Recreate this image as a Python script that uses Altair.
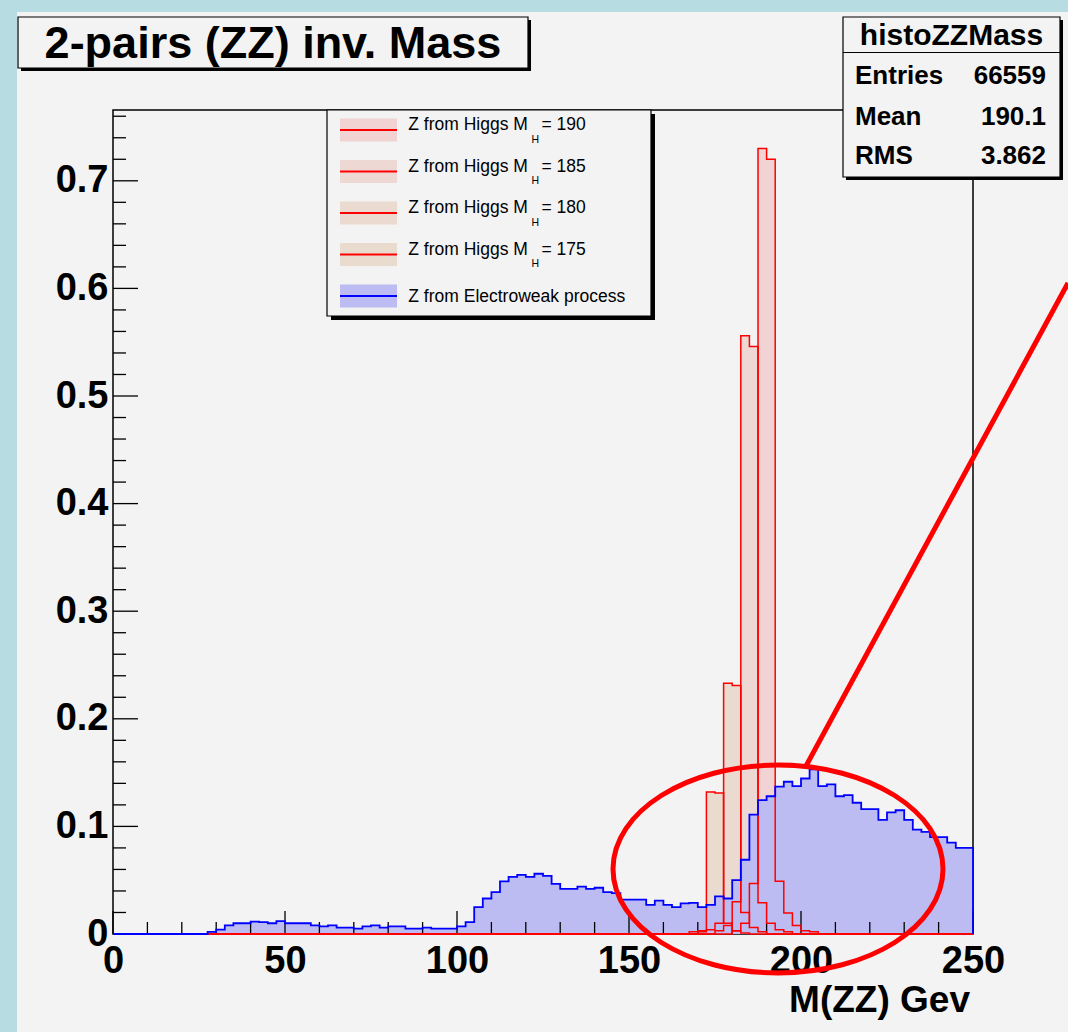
import altair as alt
import pandas as pd

# ---------------- data ----------------
BIN_WIDTH = 2.5
X_DOMAIN = [0, 250]
Y_DOMAIN = [0, 0.7658]

# Electroweak (blue) histogram, 2.5 GeV bins starting at 0
ew_start = 0.0
ew_values = [0, 0, 0, 0, 0, 0, 0, 0, 0, 0, 0,
             0.002, 0.004, 0.008, 0.010, 0.010, 0.0115, 0.011, 0.010, 0.012, 0.010,
             0.010, 0.010, 0.008, 0.007, 0.008, 0.006, 0.006, 0.005, 0.007, 0.008,
             0.006, 0.007, 0.007, 0.005, 0.005, 0.006, 0.005, 0.005, 0.005, 0.007,
             0.011, 0.025, 0.033, 0.039, 0.049, 0.053, 0.055, 0.053, 0.056, 0.054,
             0.0465, 0.042, 0.042, 0.044, 0.042, 0.043, 0.039, 0.038, 0.032, 0.032,
             0.032, 0.027, 0.031, 0.027, 0.025, 0.0285, 0.029, 0.025, 0.027, 0.035,
             0.033, 0.050, 0.069, 0.111, 0.1245, 0.128, 0.137, 0.1415, 0.1375, 0.1445,
             0.153, 0.1375, 0.139, 0.128, 0.129, 0.122, 0.116, 0.116, 0.106, 0.113,
             0.115, 0.106, 0.097, 0.095, 0.090, 0.090, 0.085, 0.080, 0.080]

# Higgs (red) histograms: first non-empty bin edge and bin contents
higgs_masses = [190, 185, 180, 175]
higgs_starts = {190: 180.0, 185: 175.0, 180: 170.0, 175: 167.5}
higgs_values = {
    190: [0.003, 0.010, 0.047, 0.730, 0.720, 0.049, 0.0195, 0.008, 0.003, 0.002],
    185: [0.003, 0.008, 0.030, 0.556, 0.546, 0.029, 0.010, 0.004, 0.002],
    180: [0.002, 0.004, 0.010, 0.233, 0.231, 0.020, 0.006, 0.002],
    175: [0.002, 0.003, 0.132, 0.131, 0.010, 0.003, 0.001],
}
higgs_range = [27.5, 250.0]
higgs_fills = {190: "#f1d3d3", 185: "#eed8d4", 180: "#ebdad0", 175: "#e9dccf"}

x_major_ticks = [0, 50, 100, 150, 200, 250]
x_minor_ticks = [10, 20, 30, 40, 60, 70, 80, 90, 110, 120, 130, 140, 160, 170, 180, 190,
                 210, 220, 230, 240]
y_major_ticks = [0.1, 0.2, 0.3, 0.4, 0.5, 0.6, 0.7]
y_minor_ticks = [0.02, 0.04, 0.06, 0.08, 0.12, 0.14, 0.16, 0.18, 0.22, 0.24, 0.26, 0.28,
                 0.32, 0.34, 0.36, 0.38, 0.42, 0.44, 0.46, 0.48, 0.52, 0.54, 0.56, 0.58,
                 0.62, 0.64, 0.66, 0.68, 0.72, 0.74, 0.76]
y_label_values = [0, 0.1, 0.2, 0.3, 0.4, 0.5, 0.6, 0.7]

title_text = "2-pairs (ZZ) inv. Mass"
x_title = "M(ZZ) Gev"
stats_title = "histoZZMass"
stats_labels = ["Entries", "Mean", "RMS"]
stats_values = ["66559", "190.1", "3.862"]
legend_masses = [190, 185, 180, 175]
legend_ew = "Z from Electroweak process"

# ---------------- helpers ----------------
L, T = 113, 110          # plot origin in page pixels
W, H = 860, 824
FONT = "Liberation Sans"
RED, BLUE = "#ff0000", "#0000ff"
BG = "#f3f3f3"
STRIP = "#b7dde3"
BLUE_FILL = "#bcbcf2"
dummy = pd.DataFrame({"d": [0]})


def px(X):
    return X - L


def py(Y):
    return Y - T


xs = alt.Scale(domain=X_DOMAIN, nice=False, zero=False)
ys = alt.Scale(domain=Y_DOMAIN, nice=False, zero=False)
xaxis = alt.Axis(values=x_major_ticks, labelFont=FONT, labelFontSize=38, labelFontWeight="bold",
                 labelColor="black", ticks=False, domain=False, grid=False, title=None,
                 labelPadding=8, labelFlush=False, labelOverlap=False, format="d")
yaxis = alt.Axis(values=y_label_values, labelFont=FONT, labelFontSize=38, labelFontWeight="bold",
                 labelColor="black", ticks=False, domain=False, grid=False, title=None,
                 labelPadding=5, labelFlush=False, labelOverlap=False, format=".1~f")


def X(f):
    return alt.X(f, type="quantitative", scale=xs, axis=xaxis)


def Y(f):
    return alt.Y(f, type="quantitative", scale=ys, axis=yaxis)


def hist_frames(start, values):
    edges = [start + i * BIN_WIDTH for i in range(len(values))]
    end = start + len(values) * BIN_WIDTH
    area = pd.DataFrame({"x": edges + [end], "y": list(values) + [values[-1]]})
    lx = [start] + edges + [end, end]
    ly = [0] + list(values) + [values[-1], 0]
    line = pd.DataFrame({"x": lx, "y": ly, "o": list(range(len(lx)))})
    return area, line


def padded_higgs(m):
    s = higgs_starts[m]
    vals = higgs_values[m]
    n_before = int(round((s - higgs_range[0]) / BIN_WIDTH))
    n_after = int(round((higgs_range[1] - s) / BIN_WIDTH)) - len(vals)
    return higgs_range[0], [0] * n_before + vals + [0] * n_after


def rect(x1, y1, x2, y2, **kw):
    return alt.Chart(dummy).mark_rect(**kw).encode(
        x=alt.value(px(x1)), x2=alt.value(px(x2)), y=alt.value(py(y1)), y2=alt.value(py(y2)))


def text(x, y, s, **kw):
    base = dict(font=FONT, color="black", baseline="alphabetic")
    base.update(kw)
    return alt.Chart(dummy).mark_text(text=s, **base).encode(
        x=alt.value(px(x)), y=alt.value(py(y)))


layers = []

# page strips
layers.append(rect(0, 0, 17, 1032, color=STRIP))
layers.append(rect(0, 0, 1068, 12, color=STRIP))

# frame
layers.append(alt.Chart(dummy).mark_rect(fillOpacity=0, stroke="black", strokeWidth=1.5).encode(
    x=alt.value(0), x2=alt.value(W), y=alt.value(0), y2=alt.value(H)))

# red fills
red_lines = []
for m in higgs_masses:
    s, v = padded_higgs(m)
    a, l = hist_frames(s, v)
    layers.append(alt.Chart(a).mark_area(interpolate="step-after", color=higgs_fills[m]).encode(
        x=X("x"), y=Y("y")))
    red_lines.append(alt.Chart(l).mark_line(interpolate="step-after", color=RED, strokeWidth=1.5).encode(
        x=X("x"), y=Y("y"), order="o:Q"))

# blue fill
ea, el = hist_frames(ew_start, ew_values)
layers.append(alt.Chart(ea).mark_area(interpolate="step-after", color=BLUE_FILL).encode(
    x=X("x"), y=Y("y")))

# ticks (inside the frame)
layers.append(alt.Chart(pd.DataFrame({"t": x_minor_ticks})).mark_rule(color="black", strokeWidth=1.3).encode(
    x=X("t"), y=alt.value(H), y2=alt.value(H - 12)))
layers.append(alt.Chart(pd.DataFrame({"t": x_major_ticks})).mark_rule(color="black", strokeWidth=1.3).encode(
    x=X("t"), y=alt.value(H), y2=alt.value(H - 23)))
layers.append(alt.Chart(pd.DataFrame({"t": y_minor_ticks})).mark_rule(color="black", strokeWidth=1.3).encode(
    y=Y("t"), x=alt.value(0), x2=alt.value(13)))
layers.append(alt.Chart(pd.DataFrame({"t": y_major_ticks})).mark_rule(color="black", strokeWidth=1.3).encode(
    y=Y("t"), x=alt.value(0), x2=alt.value(25)))

layers += red_lines
layers.append(alt.Chart(el).mark_line(interpolate="step-after", color=BLUE, strokeWidth=1.8).encode(
    x=X("x"), y=Y("y"), order="o:Q"))

# legend box
layers.append(rect(331, 114, 655, 320, color="black"))
layers.append(rect(327, 110, 651, 316, fill=BG, stroke="black", strokeWidth=1.2))
row_y = [130, 171.5, 213, 254.5, 296]
for i, m in enumerate(legend_masses):
    yy = row_y[i]
    layers.append(rect(340, yy - 11.5, 397, yy + 11.5, color=higgs_fills[m]))
    layers.append(alt.Chart(dummy).mark_rule(color=RED, strokeWidth=2).encode(
        x=alt.value(px(340)), x2=alt.value(px(397)), y=alt.value(py(yy))))
    layers.append(text(408.3, yy, "Z from Higgs M", fontSize=17.5, align="left"))
    layers.append(text(531.5, yy + 12.5, "H", fontSize=10.5, align="left"))
    layers.append(text(541.5, yy, "= %d" % m, fontSize=17.5, align="left"))
yy = row_y[4]
layers.append(rect(340, yy - 11.5, 397, yy + 11.5, color=BLUE_FILL))
layers.append(alt.Chart(dummy).mark_rule(color=BLUE, strokeWidth=2).encode(
    x=alt.value(px(340)), x2=alt.value(px(397)), y=alt.value(py(yy))))
layers.append(text(408.3, yy + 6, legend_ew, fontSize=17.5, align="left"))

# title box
layers.append(rect(21, 20, 531, 71, color="black"))
layers.append(rect(18, 17, 528, 68, fill=BG, stroke="black", strokeWidth=1.2))
layers.append(text(273, 57.5, title_text, fontSize=45, fontWeight="bold", align="center"))

# stats box
layers.append(rect(846, 20, 1063, 180, color="black"))
layers.append(rect(843, 17, 1060, 177, fill=BG, stroke="black", strokeWidth=1.2))
layers.append(alt.Chart(dummy).mark_rule(color="black", strokeWidth=1.2).encode(
    x=alt.value(px(843)), x2=alt.value(px(1060)), y=alt.value(py(52.5))))
layers.append(text(951.5, 45, stats_title, fontSize=30, fontWeight="bold", align="center"))
for lab, val, by in zip(stats_labels, stats_values, [83.5, 125, 163.5]):
    layers.append(text(855, by, lab, fontSize=26, fontWeight="bold", align="left"))
    layers.append(text(1046, by, val, fontSize=26, fontWeight="bold", align="right"))

# x-axis title
layers.append(text(970, 1012, x_title, fontSize=37, fontWeight="bold", align="right"))

# annotation: ellipse and pointer line
k = 0.5523
r = 0.63
ell = ("M 1 0 C 1 {a} {k} {r} 0 {r} C -{k} {r} -1 {a} -1 0 "
       "C -1 -{a} -{k} -{r} 0 -{r} C {k} -{r} 1 -{a} 1 0 Z").format(a=round(k * r, 4), k=k, r=r)
layers.append(alt.Chart(dummy).mark_point(shape=ell, filled=False, stroke=RED, strokeWidth=5,
                                          size=330 * 330, opacity=1).encode(
    x=alt.value(px(778)), y=alt.value(py(869))))
layers.append(alt.Chart(dummy).mark_rule(color=RED, strokeWidth=5).encode(
    x=alt.value(px(806)), y=alt.value(py(766)), x2=alt.value(px(1068)), y2=alt.value(py(283))))

chart = alt.layer(*layers).properties(
    width=W, height=H,
    padding={"left": L, "top": T, "right": 1068 - L - W, "bottom": 1032 - T - H},
    autosize=alt.AutoSizeParams(type="none"),
    background=BG,
).configure_view(stroke=None)

chart.save("out.html", embed_options={"renderer": "svg", "actions": False})
